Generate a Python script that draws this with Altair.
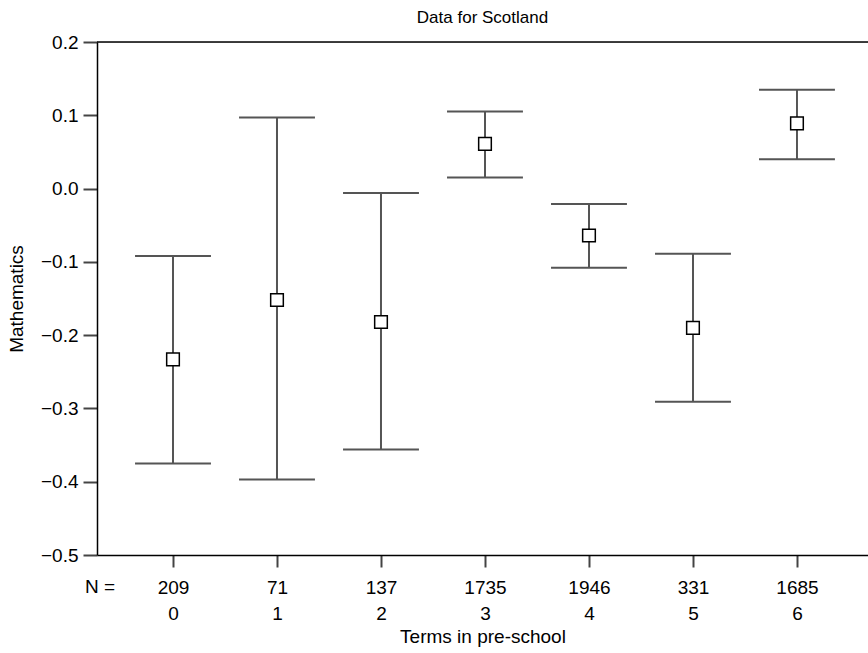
import altair as alt
import pandas as pd

terms = [0, 1, 2, 3, 4, 5, 6]
n_values = [209, 71, 137, 1735, 1946, 331, 1685]
means = [-0.233, -0.152, -0.182, 0.061, -0.064, -0.190, 0.089]
upper = [-0.092, 0.097, -0.006, 0.105, -0.021, -0.089, 0.135]
lower = [-0.375, -0.397, -0.356, 0.015, -0.108, -0.291, 0.040]
cap_half = 0.365

df = pd.DataFrame({"term": terms, "n": n_values, "mean": means, "upper": upper, "lower": lower})

FONT = "Liberation Sans"
x_dom = [-0.7308, 6.683]
y_dom = [-0.5, 0.2]

xs = alt.Scale(domain=x_dom, nice=False, zero=False)
ys = alt.Scale(domain=y_dom, nice=False, zero=False)

label_expr = "[" + str(n_values) + "[datum.value], format(datum.value, 'd')]"

base = alt.Chart(df)

vline = base.mark_rule(color="#555555", strokeWidth=2).encode(
    x=alt.X("term:Q", scale=xs, axis=alt.Axis(
        values=terms, labelExpr=label_expr, title="Terms in pre-school",
        grid=False, tickSize=12, tickColor="#444444", tickWidth=2,
        domainColor="#000000", domainWidth=1.5, labelFontSize=19,
        labelLineHeight=26, labelPadding=11, labelColor="#000000",
        labelFont=FONT, titleFont=FONT, titleFontSize=19, titleFontWeight="normal",
        titleColor="#000000", titlePadding=4)),
    y=alt.Y("upper:Q", scale=ys, axis=alt.Axis(
        values=[0.2, 0.1, 0.0, -0.1, -0.2, -0.3, -0.4, -0.5], format=".1f",
        title="Mathematics", grid=False, tickSize=14, tickColor="#444444", tickWidth=2,
        domainColor="#000000", domainWidth=1.5, labelFontSize=19, labelPadding=5,
        labelColor="#000000", labelFont=FONT, titleFont=FONT, titleFontSize=19,
        titleFontWeight="normal", titleColor="#000000", titlePadding=14)),
    y2="lower:Q",
)

cap_up = base.transform_calculate(
    x1=f"datum.term - {cap_half}", x2=f"datum.term + {cap_half}"
).mark_rule(color="#555555", strokeWidth=2).encode(
    x=alt.X("x1:Q", scale=xs), x2="x2:Q", y=alt.Y("upper:Q", scale=ys)
)
cap_lo = base.transform_calculate(
    x1=f"datum.term - {cap_half}", x2=f"datum.term + {cap_half}"
).mark_rule(color="#555555", strokeWidth=2).encode(
    x=alt.X("x1:Q", scale=xs), x2="x2:Q", y=alt.Y("lower:Q", scale=ys)
)

pts = base.mark_point(shape="square", size=160, filled=True, fill="white",
                      stroke="#000000", strokeWidth=1.5, opacity=1).encode(
    x=alt.X("term:Q", scale=xs), y=alt.Y("mean:Q", scale=ys)
)

top = alt.Chart(pd.DataFrame({"v": [y_dom[1]]})).mark_rule(color="#000000", strokeWidth=1.5).encode(
    y=alt.Y("v:Q", scale=ys)
)

nlabel = alt.Chart(pd.DataFrame({"t": ["N ="]})).mark_text(
    font=FONT, fontSize=19, color="#000000", align="center", baseline="alphabetic",
    dy=38, clip=False
).encode(
    x=alt.datum(x_dom[0] + 0.03, scale=xs), y=alt.datum(y_dom[0], scale=ys), text="t:N"
)

chart = alt.layer(vline, cap_up, cap_lo, pts, top, nlabel).properties(
    width=771, height=513,
    title=alt.TitleParams("Data for Scotland", font=FONT, fontSize=17, fontWeight="normal",
                          color="#000000", anchor="middle", offset=6),
    autosize="none",
    padding={"left": 97, "top": 42, "right": 0, "bottom": 98},
).configure_view(stroke=None).configure(background="white")

chart.save("out.html", embed_options={"renderer": "svg", "actions": False})
